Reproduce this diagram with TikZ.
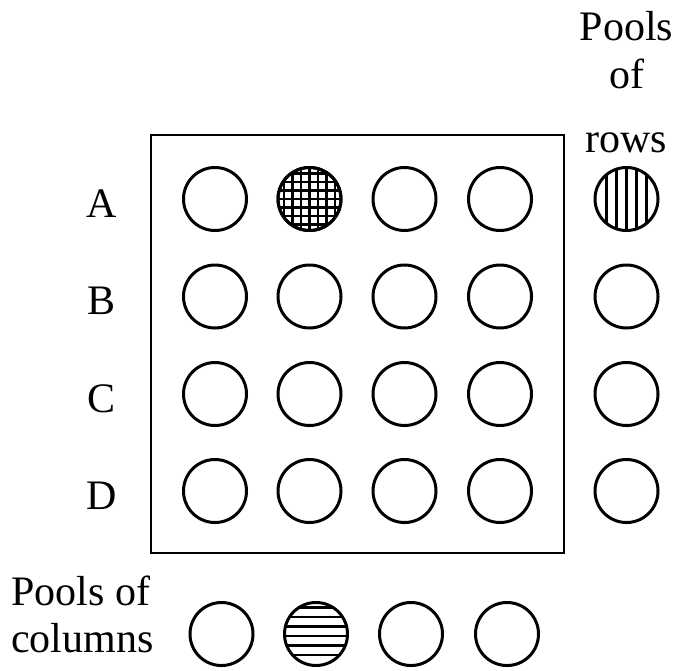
\documentclass[tikz,border=0pt]{standalone}
\usepackage{fontspec}
\setmainfont{Liberation Serif}
\begin{document}
\begin{tikzpicture}[x=1pt,y=-1pt,
  well/.style={circle,draw,line width=3pt,minimum size=63pt,inner sep=0pt},
  lbl/.style={font=\fontsize{42}{48}\selectfont,anchor=base,inner sep=0pt},
  lbll/.style={lbl,anchor=base west},
  gridhatch/.style={path picture={
    \foreach \d in {-25.5,-17,-8.5,0,8.5,17,25.5}{
      \draw[line width=2.3pt] ([xshift=\d pt]path picture bounding box.north) -- ([xshift=\d pt]path picture bounding box.south);
      \draw[line width=2.3pt] ([yshift=\d pt]path picture bounding box.west) -- ([yshift=\d pt]path picture bounding box.east);}}},
  vhatch/.style={path picture={
    \foreach \d in {-20,-10,0,10,20}{
      \draw[line width=2.6pt] ([xshift=\d pt]path picture bounding box.north) -- ([xshift=\d pt]path picture bounding box.south);}}},
  hhatch/.style={path picture={
    \foreach \d in {-21,-11.5,-2,7.5,17,26.5}{
      \draw[line width=2.6pt] ([yshift=\d pt]path picture bounding box.west) -- ([yshift=\d pt]path picture bounding box.east);}}}
]
\useasboundingbox (0,0) rectangle (676,670);

% plate frame
\draw[line width=2.6pt] (151,135) rectangle (564,553);

% wells of the plate
\foreach \r/\y in {a/199,b/296.5,c/394,d/491}{
  \foreach \c/\x in {1/215,2/309.5,3/404.5,4/500}{
    \node[well] (\r\c) at (\x,\y) {};
  }
}
\node[well,gridhatch] at (a2) {};

% row labels
\node[lbl] (la) at (102,217) {A};
\node[lbl] (lb) at (102,314.5) {B};
\node[lbl] (lc) at (102,412) {C};
\node[lbl] (ld) at (102,509) {D};

% pools of rows
\node[well,vhatch] (r1) at (626.5,199) {};
\node[well] (r2) at (626.5,296.5) {};
\node[well] (r3) at (626.5,394) {};
\node[well] (r4) at (626.5,491) {};
\node[lbl] (t1) at (626.5,40) {Pools};
\node[lbl] (t2) at (626.5,88) {of};
\node[lbl] (t3) at (626.5,152) {rows};

% pools of columns
\node[well] (p1) at (221.5,634) {};
\node[well,hhatch] (p2) at (316,634) {};
\node[well] (p3) at (411,634) {};
\node[well] (p4) at (507,634) {};
\node[lbll] (s1) at (11,605) {Pools of};
\node[lbll] (s2) at (11,652) {columns};
\end{tikzpicture}
\end{document}
